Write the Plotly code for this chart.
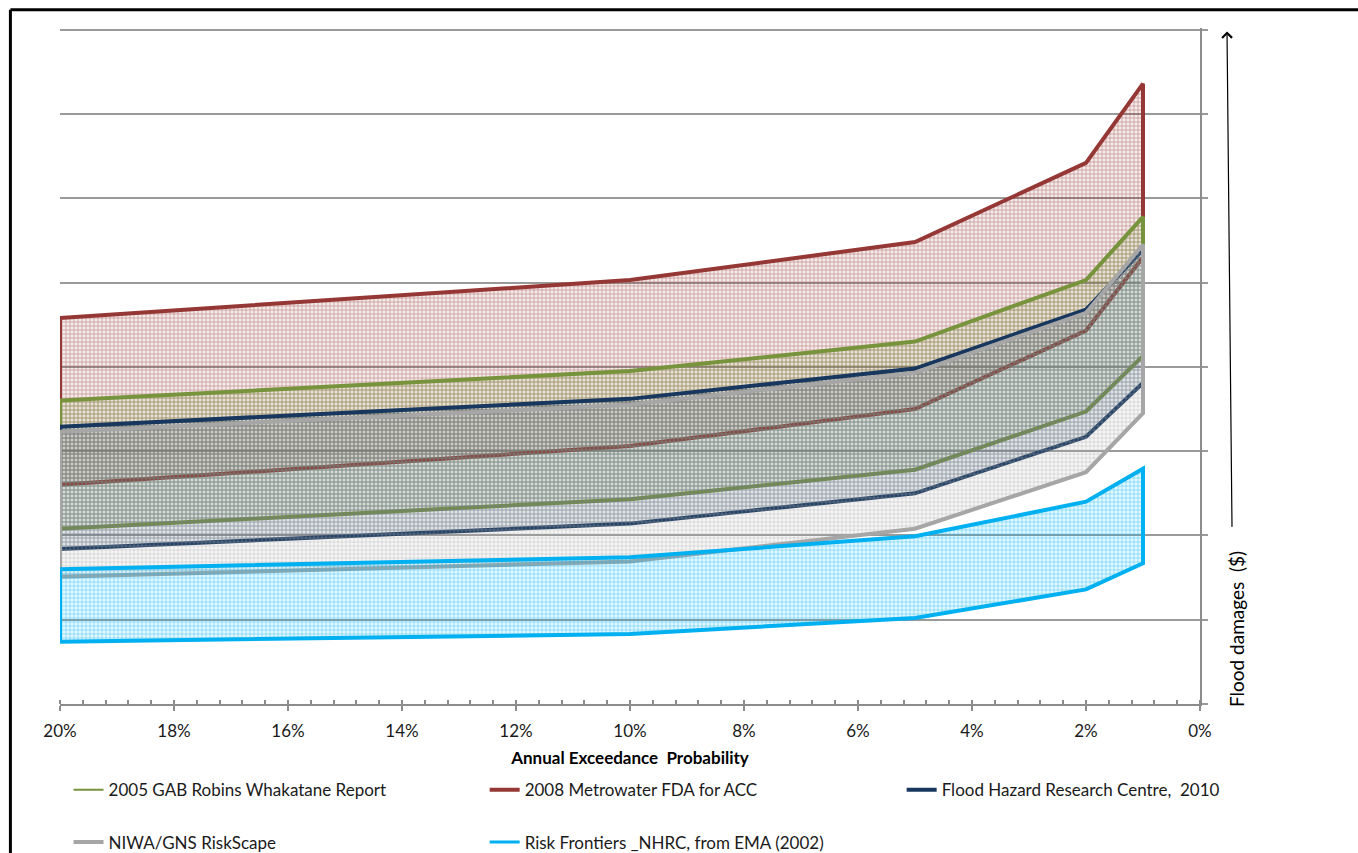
import plotly.graph_objects as go

# Annual exceedance probability (%) at which each estimate is given
aep = [20, 10, 5, 2, 1]

# Damage bands (upper / lower estimate) per source, relative units
gab_upper = [3.60, 3.95, 4.30, 5.03, 5.78]
gab_lower = [2.08, 2.43, 2.78, 3.47, 4.13]
metro_upper = [4.58, 5.03, 5.48, 6.42, 7.36]
metro_lower = [2.60, 3.06, 3.50, 4.43, 5.30]
fhrc_upper = [3.29, 3.62, 3.98, 4.68, 5.39]
fhrc_lower = [1.84, 2.14, 2.50, 3.17, 3.81]
niwa_upper = [3.23, 3.55, 3.93, 4.64, 5.45]
niwa_lower = [1.51, 1.69, 2.08, 2.75, 3.45]
rf_upper = [1.60, 1.74, 1.99, 2.40, 2.79]
rf_lower = [0.74, 0.83, 1.02, 1.36, 1.67]

series_names = [
    "2005 GAB Robins Whakatane Report",
    "2008 Metrowater FDA for ACC",
    "Flood Hazard Research Centre,  2010",
    "NIWA/GNS RiskScape",
    "Risk Frontiers _NHRC, from EMA (2002)",
]

bands = {
    series_names[0]: (gab_upper, gab_lower, (119, 147, 60)),
    series_names[1]: (metro_upper, metro_lower, (149, 55, 53)),
    series_names[2]: (fhrc_upper, fhrc_lower, (23, 55, 94)),
    series_names[3]: (niwa_upper, niwa_lower, (166, 166, 166)),
    series_names[4]: (rf_upper, rf_lower, (0, 176, 240)),
}

# drawing order of the hatched bands (back to front)
draw_order = [series_names[1], series_names[0], series_names[2],
              series_names[3], series_names[4]]

FONT = "Lato, 'Open Sans', sans-serif"

fig = go.Figure()


def rgba(c, a):
    return f"rgba({c[0]},{c[1]},{c[2]},{a})"


for name in draw_order:
    up, lo, col = bands[name]
    xs = aep + aep[::-1] + [aep[0]]
    ys = up + lo[::-1] + [up[0]]
    fig.add_trace(go.Scatter(
        x=xs, y=ys, mode="lines", fill="toself",
        line=dict(color=rgba(col, 1), width=4),
        fillcolor=rgba(col, 0.12),
        fillpattern=dict(shape="+", size=4, solidity=0.3,
                         fgcolor=rgba(col, 0.55),
                         bgcolor=rgba(col, 0.10),
                         fillmode="replace"),
        showlegend=False, hoverinfo="skip", name=name,
    ))

# one legend box per entry, laid out as a 3-column grid below the axis
legend_widths = [2, 4, 4, 4, 3]
legend_ids = ["legend", "legend2", "legend3", "legend4", "legend5"]
legend_x = [0.0075, 0.3725, 0.7383, 0.0075, 0.3725]
legend_y = [-0.1276, -0.1276, -0.1276, -0.2047, -0.2047]

for i, name in enumerate(series_names):
    col = bands[name][2]
    fig.add_trace(go.Scatter(
        x=[None], y=[None], mode="lines", name=name,
        line=dict(color=rgba(col, 1), width=legend_widths[i]),
        legend=legend_ids[i],
    ))

legend_layout = {}
for i, lid in enumerate(legend_ids):
    legend_layout[lid] = dict(
        x=legend_x[i], y=legend_y[i], xanchor="left", yanchor="middle",
        orientation="h", bgcolor="rgba(0,0,0,0)",
        font=dict(family=FONT, size=17, color="#1a1a1a"),
    )

fig.update_layout(
    width=1358, height=853,
    margin=dict(l=60, r=158, t=28, b=149, autoexpand=False),
    paper_bgcolor="white", plot_bgcolor="white",
    font=dict(family=FONT, size=15, color="black"),
    xaxis=dict(
        range=[20, 0], tick0=0, dtick=2, ticksuffix="%",
        showgrid=False, zeroline=False,
        showline=True, linecolor="#8c8c8c", linewidth=2,
        ticks="outside", ticklen=5, tickcolor="#8c8c8c", tickwidth=1.5,
        minor=dict(ticks="inside", dtick=0.4, ticklen=4,
                   tickcolor="#8c8c8c", tickwidth=1.5),
        tickfont=dict(family=FONT, size=17, color="#1a1a1a"),
        ticklabelstandoff=6,
        title=dict(text="<b>Annual Exceedance  Probability</b>",
                   font=dict(family=FONT, size=17), standoff=12),
    ),
    yaxis=dict(
        range=[0, 8.02], tickmode="array", tickvals=list(range(9)),
        side="right",
        showgrid=True, gridcolor="#9a9a9a", gridwidth=1.5,
        zeroline=False, showticklabels=False,
        showline=True, linecolor="#8c8c8c", linewidth=2,
        ticks="outside", ticklen=6, tickcolor="#9a9a9a", tickwidth=1.5,
    ),
    **legend_layout,
)

# outer frame lines (top and left)
fig.add_shape(type="line", xref="paper", yref="paper",
              x0=-0.0435, x1=1.15, y0=1.027, y1=1.027,
              line=dict(color="black", width=3))
fig.add_shape(type="line", xref="paper", yref="paper",
              x0=-0.0435, x1=-0.0435, y0=1.027, y1=-0.25,
              line=dict(color="black", width=3))

# right-hand axis caption with upward arrow
fig.add_annotation(
    xref="paper", yref="paper", x=1.0325, y=0.111,
    xanchor="center", yanchor="middle",
    text="Flood damages  ($)", textangle=-90, showarrow=False,
    font=dict(family=FONT, size=19, color="black"),
)
fig.add_annotation(
    xref="paper", yref="paper", x=1.0237, y=0.995,
    ax=5, ay=497, axref="pixel", ayref="pixel",
    text="", showarrow=True, arrowhead=4, arrowsize=1.6,
    arrowwidth=1.2, arrowcolor="black",
)

fig.write_html("out.html")
